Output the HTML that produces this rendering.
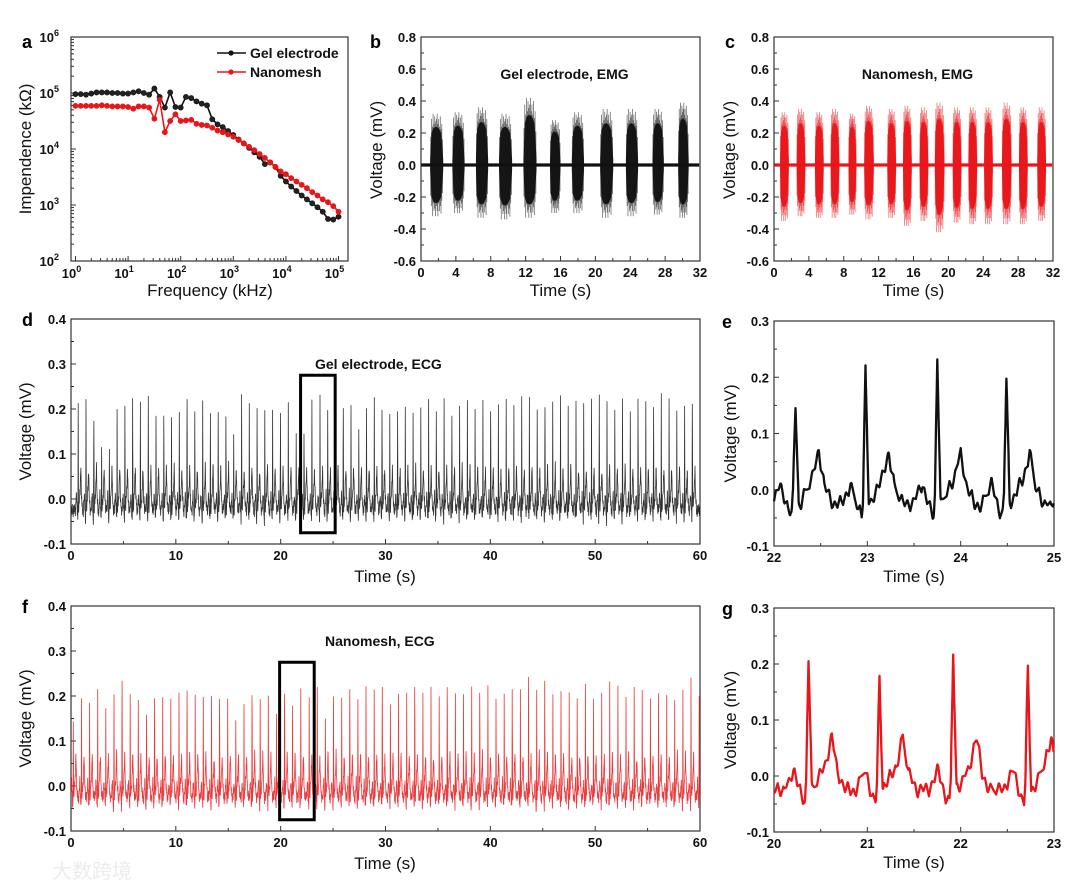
<!DOCTYPE html>
<html><head><meta charset="utf-8"><style>
html,body{margin:0;padding:0;background:#fff;}
svg{display:block;font-family:"Liberation Sans",Arial,sans-serif;}
.tk{font-size:13px;font-weight:bold;fill:#111;}
.at{font-size:17px;fill:#111;}
.pl{font-size:18px;font-weight:bold;fill:#000;}
.tt{font-size:14px;font-weight:bold;fill:#111;}
.wm{font-size:20px;fill:#ececec;}
</style></head><body>
<svg id="fig" width="1080" height="889" viewBox="0 0 1080 889" xmlns="http://www.w3.org/2000/svg"></svg>
<script>
// ---------- DATA ----------
const aFreqExp=[0,0.1,0.2,0.3,0.4,0.5,0.6,0.7,0.8,0.9,1,1.1,1.2,1.3,1.4,1.5,1.6,1.7,1.8,1.9,2,2.1,2.2,2.3,2.4,2.5,2.6,2.7,2.8,2.9,3,3.1,3.2,3.3,3.4,3.5,3.6,3.7,3.8,3.9,4,4.1,4.2,4.3,4.4,4.5,4.6,4.7,4.8,4.9,5];
const aGel=[4.98,4.98,4.97,4.99,5.01,5.01,5.01,5.0,5.0,4.99,4.99,5.01,5.03,5.0,4.97,5.08,4.93,4.74,5.01,4.75,4.74,4.93,4.91,4.85,4.81,4.78,4.53,4.44,4.39,4.32,4.25,4.17,4.1,4.02,3.94,3.86,3.73,3.76,3.68,3.52,3.42,3.33,3.25,3.17,3.1,3.03,2.96,2.88,2.75,2.74,2.79];
const aNano=[4.77,4.77,4.77,4.77,4.77,4.78,4.77,4.76,4.76,4.76,4.75,4.72,4.76,4.76,4.74,4.54,4.88,4.3,4.5,4.62,4.5,4.51,4.52,4.45,4.43,4.42,4.38,4.33,4.3,4.26,4.22,4.16,4.1,4.04,3.98,3.91,3.84,3.76,3.68,3.6,3.55,3.48,3.42,3.36,3.3,3.23,3.17,3.1,3.05,2.98,2.88];
const bBurstCenters=[1.8,4.3,7.0,9.7,12.5,15.4,18.0,21.3,24.2,27.2,30.1];
const bBurstHalfW=[0.75,0.7,0.7,0.75,0.75,0.6,0.7,0.75,0.7,0.65,0.6];
const bBurstPos=[0.32,0.33,0.36,0.32,0.42,0.28,0.33,0.35,0.35,0.35,0.39];
const bBurstNeg=[-0.32,-0.3,-0.33,-0.34,-0.33,-0.3,-0.3,-0.33,-0.32,-0.31,-0.33];
const cBurstCenters=[1.2,3.1,5.2,7.0,9.0,10.9,13.5,15.3,17.2,19.0,21.0,22.8,24.6,26.7,28.6,30.7];
const cBurstHalfW=[0.5,0.5,0.5,0.5,0.45,0.55,0.5,0.5,0.5,0.55,0.5,0.5,0.5,0.55,0.5,0.5];
const cBurstPos=[0.33,0.35,0.33,0.35,0.32,0.37,0.35,0.37,0.36,0.39,0.36,0.36,0.36,0.39,0.36,0.36];
const cBurstNeg=[-0.35,-0.32,-0.33,-0.33,-0.31,-0.34,-0.33,-0.38,-0.35,-0.42,-0.36,-0.37,-0.37,-0.37,-0.37,-0.35];
const emgSpikeFrac=[-0.92,-0.8,-0.66,-0.55,-0.41,-0.3,-0.18,-0.05,0.07,0.19,0.3,0.43,0.55,0.66,0.78,0.9];
const emgSpikeHi=[0.55,0.9,0.75,1.0,0.8,0.95,0.85,0.9,1.0,0.8,0.9,0.75,0.95,0.7,0.8,0.5];
const emgSpikeLo=[0.6,0.8,1.0,0.75,0.9,0.85,1.0,0.8,0.9,1.0,0.75,0.9,0.8,0.95,0.7,0.55];
const emgEnvFrac=[-1,-0.8,-0.5,-0.1,0.3,0.7,1];
const emgEnvH=[0.1,0.62,0.72,0.75,0.72,0.62,0.1];
const dBeats=[0.69,1.43,2.18,2.92,3.66,4.40,5.14,5.88,6.62,7.37,8.11,8.85,9.59,10.33,11.07,11.81,12.56,13.30,14.04,14.78,15.52,16.27,17.01,17.75,18.49,19.23,19.98,20.73,21.48,22.23,22.98,23.75,24.49,25.23,25.97,26.71,27.45,28.19,28.93,29.67,30.41,31.15,31.89,32.63,33.37,34.11,34.85,35.59,36.33,37.07,37.81,38.55,39.29,40.03,40.77,41.51,42.25,42.99,43.73,44.47,45.21,45.95,46.69,47.43,48.17,48.91,49.65,50.39,51.13,51.87,52.61,53.35,54.09,54.83,55.57,56.31,57.05,57.79,58.53,59.27];
const dAmps=[0.21,0.22,0.17,0.12,0.11,0.2,0.2,0.21,0.22,0.23,0.19,0.2,0.18,0.2,0.21,0.2,0.22,0.19,0.2,0.18,0.15,0.23,0.21,0.2,0.19,0.21,0.19,0.21,0.15,0.155,0.215,0.24,0.195,0.23,0.2,0.21,0.15,0.2,0.22,0.21,0.19,0.2,0.22,0.19,0.21,0.21,0.2,0.22,0.19,0.21,0.22,0.21,0.22,0.2,0.2,0.22,0.21,0.22,0.23,0.2,0.21,0.21,0.23,0.2,0.22,0.21,0.22,0.23,0.21,0.21,0.22,0.2,0.21,0.21,0.2,0.22,0.23,0.2,0.21,0.22];
const fBeats=[0.22,1.00,1.77,2.55,3.32,4.10,4.87,5.65,6.42,7.20,7.97,8.75,9.52,10.30,11.07,11.85,12.62,13.40,14.17,14.95,15.72,16.50,17.27,18.05,18.82,19.60,20.37,21.13,21.92,22.72,23.49,24.27,25.04,25.82,26.59,27.37,28.14,28.92,29.69,30.47,31.24,32.02,32.79,33.57,34.34,35.12,35.89,36.67,37.44,38.22,38.99,39.77,40.54,41.32,42.09,42.87,43.64,44.42,45.19,45.97,46.74,47.52,48.29,49.07,49.84,50.62,51.39,52.17,52.94,53.72,54.49,55.27,56.04,56.82,57.59,58.37,59.14,59.92];
const fAmps=[0.15,0.2,0.19,0.2,0.17,0.2,0.23,0.2,0.2,0.16,0.2,0.19,0.2,0.21,0.2,0.19,0.2,0.2,0.2,0.2,0.15,0.18,0.2,0.19,0.2,0.16,0.22,0.18,0.22,0.19,0.21,0.15,0.2,0.2,0.22,0.19,0.23,0.2,0.22,0.19,0.2,0.2,0.23,0.21,0.22,0.2,0.22,0.21,0.2,0.22,0.21,0.23,0.2,0.21,0.22,0.2,0.24,0.21,0.23,0.2,0.22,0.21,0.2,0.22,0.2,0.21,0.22,0.21,0.2,0.22,0.22,0.2,0.21,0.2,0.19,0.21,0.24,0.2];
const tplT=[-0.26,-0.16,-0.08,-0.04,-0.02,0,0.03,0.06,0.12,0.18,0.25,0.31,0.4];
const tplV=[0,0.035,-0.01,-0.02,0.03,0,0.0,0.005,0.025,0.045,0.095,0.03,0];
const ecgNoise=[0.004,-0.012,0.009,-0.006,0.014,-0.01,0.002,-0.015,0.011,0.0,-0.008,0.013,-0.004,0.007,-0.013,0.01,-0.002,0.012,-0.011,0.005,-0.007,0.015,-0.009,0.003,-0.014,0.008,0.001,-0.005,0.012,-0.012,0.006,-0.003];
const ecgBase=-0.025;

// ---------- HELPERS ----------
const NS='http://www.w3.org/2000/svg';
const svg=document.getElementById('fig');
function el(tag,attrs,parent){const e=document.createElementNS(NS,tag);for(const k in attrs)e.setAttribute(k,attrs[k]);(parent||svg).appendChild(e);return e;}
function txt(s,x,y,cls,anchor,parent){const t=el('text',{x:x,y:y,'class':cls,'text-anchor':anchor||'start'},parent);t.textContent=s;return t;}
function axes(p){p.sx=v=>p.x0+(v-p.xmin)/(p.xmax-p.xmin)*(p.x1-p.x0);p.sy=v=>p.y1-(v-p.ymin)/(p.ymax-p.ymin)*(p.y1-p.y0);return p;}
function frame(p,g){
  const r=el('rect',{x:p.x0,y:p.y0,width:p.x1-p.x0,height:p.y1-p.y0,fill:'none',stroke:'#333','stroke-width':1.2},g);
  
  
}
function ticksLinear(p,g,xt,xminor,yt,yminor,xlab,ylab,yfmt){
  xt.forEach(v=>{el('line',{x1:p.sx(v),x2:p.sx(v),y1:p.y1,y2:p.y1-5,stroke:'#333'},g);
    const t=txt(xlab?xlab(v):String(v),p.sx(v),p.y1+16,'tk','middle',g);
    
    });
  xminor.forEach(v=>el('line',{x1:p.sx(v),x2:p.sx(v),y1:p.y1,y2:p.y1-3,stroke:'#333'},g));
  yt.forEach(v=>{el('line',{x1:p.x0,x2:p.x0+5,y1:p.sy(v),y2:p.sy(v),stroke:'#333'},g);
    const t=txt(yfmt(v),p.x0-5,p.sy(v)+5,'tk','end',g);
    
    });
  yminor.forEach(v=>el('line',{x1:p.x0,x2:p.x0+3,y1:p.sy(v),y2:p.sy(v),stroke:'#333'},g));
}
function interp(xs,ys,x){if(x<=xs[0])return ys[0];for(let i=1;i<xs.length;i++){if(x<=xs[i]){const f=(x-xs[i-1])/(xs[i]-xs[i-1]);return ys[i-1]+f*(ys[i]-ys[i-1]);}}return ys[ys.length-1];}
function ecgAt(t,beats,amps){
  let v=ecgBase;
  const nf=t/0.03, ni=Math.floor(nf), fr=nf-ni, N=ecgNoise.length;
  const a=ecgNoise[((ni%N)+N)%N], b=ecgNoise[(((ni+1)%N)+N)%N];
  v+=a+(b-a)*fr;
  for(let i=0;i<beats.length;i++){const d=t-beats[i];
    if(d>tplT[0]&&d<tplT[tplT.length-1]){v+=interp(tplT,tplV,d);
      if(d>-0.025&&d<0.035){const h=amps[i]-ecgBase;v+=d<0?h*(1+d/0.025):h*(1-d/0.035);}}}
  return v;
}
function ecgTimes(t0,t1,dt,beats){
  const ts=[];for(let t=t0;t<=t1;t+=dt)ts.push(t);
  beats.forEach(b=>{if(b>t0&&b<t1)ts.push(b);});
  return ts.sort((x,y)=>x-y);
}
const f1=v=>v.toFixed(1);

// ---------- PANEL A ----------
(function(){
  const g=el('g',{});
  const p=axes({x0:71,x1:348,y0:37,y1:261,xmin:-0.085,xmax:5.18,ymin:2,ymax:6});
  frame(p,g);
  for(let e=0;e<=5;e++){el('line',{x1:p.sx(e),x2:p.sx(e),y1:p.y1,y2:p.y1-5,stroke:'#333'},g);
    const t=el('text',{x:p.sx(e)-4,y:p.y1+17,'class':'tk','text-anchor':'middle'},g);
    
    t.innerHTML='10<tspan dy="-6" font-size="9">'+e+'</tspan>';
    if(e<5)for(let m=2;m<10;m++){const v=e+Math.log10(m);el('line',{x1:p.sx(v),x2:p.sx(v),y1:p.y1,y2:p.y1-3,stroke:'#333'},g);}}
  for(let e=2;e<=6;e++){el('line',{x1:p.x0,x2:p.x0+5,y1:p.sy(e),y2:p.sy(e),stroke:'#333'},g);
    const t=el('text',{x:p.x0-12,y:p.sy(e)+5,'class':'tk','text-anchor':'end'},g);
    
    t.innerHTML='10<tspan dy="-6" font-size="9">'+e+'</tspan>';
    if(e<6)for(let m=2;m<10;m++){const v=e+Math.log10(m);el('line',{x1:p.x0,x2:p.x0+3,y1:p.sy(v),y2:p.sy(v),stroke:'#333'},g);}}
  [[aGel,'#111','gel-electrode-series'],[aNano,'#e8161a','nanomesh-series']].forEach(([s,c,n])=>{
    const pts=s.map((v,i)=>p.sx(aFreqExp[i])+','+p.sy(v)).join(' ');
    const pl=el('polyline',{points:pts,fill:'none',stroke:c,'stroke-width':1.6},g);
    
    s.forEach((v,i)=>{const d=el('circle',{cx:p.sx(aFreqExp[i]),cy:p.sy(v),r:2.6,fill:c==='#111'?'#222':'#e8161a',stroke:c,'stroke-width':0.6},g);
      });
  });
  [[53,'#111','Gel electrode'],[72,'#e8161a','Nanomesh']].forEach(([y,c,s])=>{
    const lg=el('g',{},g);
    el('line',{x1:217,x2:246,y1:y,y2:y,stroke:c,'stroke-width':1.6},lg);
    el('circle',{cx:231,cy:y,r:2.6,fill:c},lg);
    txt(s,250,y+5,'tt','start',lg).setAttribute('font-size','13');
  });
  const yt=txt('Impendence (kΩ)',0,0,'at','middle',g);yt.setAttribute('transform','translate(31,149) rotate(-90)');
  
  const xt=txt('Frequency (kHz)',210,296,'at','middle',g);
  const l=txt('a',22,48,'pl','start',g);
})();

// ---------- EMG PANELS ----------
function emgPanel(x0,x1,centers,hw,pos,neg,col,title,letter,lx,name){
  const g=el('g',{});
  const p=axes({x0:x0,x1:x1,y0:37,y1:261,xmin:0,xmax:32,ymin:-0.6,ymax:0.8});
  frame(p,g);
  ticksLinear(p,g,[0,4,8,12,16,20,24,28,32],[2,6,10,14,18,22,26,30],[-0.6,-0.4,-0.2,0,0.2,0.4,0.6,0.8],[-0.5,-0.3,-0.1,0.1,0.3,0.5,0.7],null,null,f1);
  const base=el('line',{x1:p.sx(0.05),x2:p.sx(31.9),y1:p.sy(0),y2:p.sy(0),stroke:col,'stroke-width':3.2},g);
  
  centers.forEach((c,i)=>{
    const bg=el('g',{},g);
    const up=emgEnvFrac.map((f,k)=>p.sx(c+f*hw[i])+','+p.sy(pos[i]*emgEnvH[k]));
    const dn=emgEnvFrac.slice().reverse().map((f,k)=>p.sx(c+f*hw[i])+','+p.sy(neg[i]*emgEnvH[emgEnvH.length-1-k]));
    el('polygon',{points:up.concat(dn).join(' '),fill:col,opacity:0.95},bg);
    emgSpikeFrac.forEach((f,k)=>{const x=p.sx(c+f*hw[i]);
      el('line',{x1:x,x2:x,y1:p.sy(pos[i]*emgSpikeHi[k]),y2:p.sy(neg[i]*emgSpikeLo[k]),stroke:col,'stroke-width':0.8,opacity:0.6},bg);});
  });
  const tt=txt(title,(x0+x1)/2+4,79,'tt','middle',g);
  const yt=txt('Voltage (mV)',0,0,'at','middle',g);yt.setAttribute('transform','translate('+(x0-39)+',150) rotate(-90)');
  
  const xt=txt('Time (s)',(x0+x1)/2,296,'at','middle',g);
  const l=txt(letter,lx,48,'pl','start',g);
}
emgPanel(421,700,bBurstCenters,bBurstHalfW,bBurstPos,bBurstNeg,'#111','Gel electrode, EMG','b',370,'panel-b-gel-emg');
emgPanel(774,1053,cBurstCenters,cBurstHalfW,cBurstPos,cBurstNeg,'#e8161a','Nanomesh, EMG','c',725,'panel-c-nanomesh-emg');

// ---------- ECG PANELS ----------
function ecgLong(y0,y1,beats,amps,col,title,tx,ty,box,letter,name){
  const g=el('g',{});
  const p=axes({x0:71,x1:700,y0:y0,y1:y1,xmin:0,xmax:60,ymin:-0.1,ymax:0.4});
  frame(p,g);
  ticksLinear(p,g,[0,10,20,30,40,50,60],[5,15,25,35,45,55],[-0.1,0,0.1,0.2,0.3,0.4],[-0.05,0.05,0.15,0.25,0.35],null,null,f1);
  const pts=ecgTimes(0.02,59.98,0.01,beats).map(t=>p.sx(t).toFixed(1)+','+p.sy(ecgAt(t,beats,amps)).toFixed(1));
  const pl=el('polyline',{points:pts.join(' '),fill:'none',stroke:col,'stroke-width':0.8,opacity:0.85},g);
  
  const r=el('rect',{x:p.sx(box[0]),y:p.sy(box[3]),width:p.sx(box[1])-p.sx(box[0]),height:p.sy(box[2])-p.sy(box[3]),fill:'none',stroke:'#000','stroke-width':3},g);
  
  const tt=txt(title,tx,ty,'tt','start',g);
  const yt=txt('Voltage (mV)',0,0,'at','middle',g);yt.setAttribute('transform','translate(31,'+((y0+y1)/2)+') rotate(-90)');
  
  const xt=txt('Time (s)',385,y1+38,'at','middle',g);
  const l=txt(letter,22,y0+7,'pl','start',g);
}
ecgLong(319,544,dBeats,dAmps,'#111','Gel electrode, ECG',315,369,[21.9,25.2,-0.075,0.275],'d','panel-d-gel-ecg');
ecgLong(606,831,fBeats,fAmps,'#e8161a','Nanomesh, ECG',325,646,[19.9,23.2,-0.075,0.275],'f','panel-f-nanomesh-ecg');

function ecgZoom(y0,y1,t0,beats,amps,col,letter,name){
  const g=el('g',{});
  const p=axes({x0:774,x1:1054,y0:y0,y1:y1,xmin:t0,xmax:t0+3,ymin:-0.1,ymax:0.3});
  frame(p,g);
  ticksLinear(p,g,[t0,t0+1,t0+2,t0+3],[t0+0.5,t0+1.5,t0+2.5],[-0.1,0,0.1,0.2,0.3],[-0.05,0.05,0.15,0.25],null,null,f1);
  const pts=ecgTimes(t0,t0+3,0.004,beats).map(t=>p.sx(t).toFixed(1)+','+p.sy(ecgAt(t,beats,amps)).toFixed(1));
  const pl=el('polyline',{points:pts.join(' '),fill:'none',stroke:col,'stroke-width':2.3,'stroke-linejoin':'round'},g);
  
  const yt=txt('Voltage (mV)',0,0,'at','middle',g);yt.setAttribute('transform','translate(736,'+((y0+y1)/2)+') rotate(-90)');
  
  const xt=txt('Time (s)',914,y1+36,'at','middle',g);
  const l=txt(letter,722,y0+7,'pl','start',g);
}
ecgZoom(321,546,22,dBeats,dAmps,'#111','e','panel-e-gel-ecg-zoom');
ecgZoom(608,832,20,fBeats,fAmps,'#e8161a','g','panel-g-nanomesh-ecg-zoom');

const wm=txt('大数跨境',52,878,'wm','start');
wm.setAttribute('style','font-family:"Liberation Sans","Noto Sans CJK SC",sans-serif;fill:#ececec;');


</script>
</body></html>
